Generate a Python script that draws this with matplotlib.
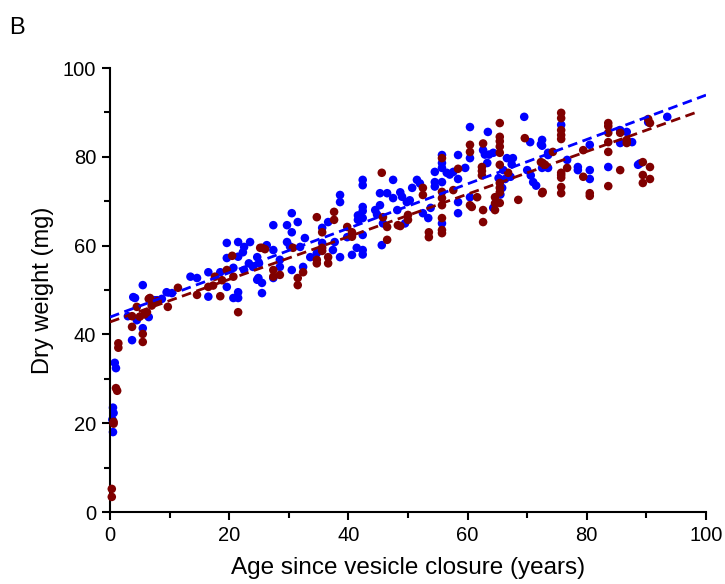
import matplotlib
matplotlib.use("Agg")
import matplotlib.pyplot as plt
from matplotlib.ticker import MultipleLocator

plt.rcParams['font.family'] = ['Liberation Sans', 'DejaVu Sans']

blue_pts = [(0.8,33.6),(1.0,32.4),(0.5,23.5),(0.6,22.3),(0.5,18.0),(0.4,20.8),
(3.7,38.7),(5.5,41.4),(4.5,43.2),(3.0,44.1),(4.2,48.2),(3.9,48.4),(5.5,51.1),(6.5,43.9),(7.5,47.7),(7.9,47.7),(8.7,48.0),
(9.5,49.5),(10.4,49.3),(13.5,53.0),(14.6,52.7),(16.5,54.0),(16.5,48.5),(18.5,54.0),(19.6,50.7),(19.6,60.6),(19.6,57.2),
(21.5,60.8),(22.5,59.7),(23.5,60.8),
(21.5,57.5),(22.3,58.5),(20.7,48.2),(21.5,49.5),(21.5,48.2),(20.7,55.0),(22.5,54.5),(23.3,56.0),(24.0,55.2),(24.7,52.3),
(24.7,57.4),(25.0,56.0),(24.9,52.7),(25.5,51.6),(25.5,49.3),(26.3,60.1),(27.4,59.0),(27.4,64.6),(29.7,64.6),(30.5,67.3),
(30.5,63.0),(31.5,65.3),(29.7,60.8),(30.2,59.8),(28.5,56.8),(28.5,55.2),(27.4,52.7),(30.5,54.5),(32.4,55.2),(32.7,61.7),
(31.9,59.7),(33.6,57.4),(34.7,58.3),(35.6,64.0),(35.6,60.6),(36.6,65.3),(37.7,60.8),(37.4,59.0),(38.6,71.4),(38.6,69.8),
(38.6,57.4),(39.8,61.9),(40.6,57.9),(41.6,65.8),(41.6,66.8),(41.4,59.5),(42.4,66.2),(42.4,62.4),(42.4,59.0),(42.4,58.0),
(42.4,74.8),(42.4,73.6),(42.4,68.7),(42.4,67.8),(45.3,71.8),(45.3,69.1),(44.5,68.0),(44.8,67.0),(46.5,71.8),(47.5,74.8),
(47.5,70.7),(45.8,65.0),(45.6,60.1),(48.2,68.0),(48.7,72.0),(49.0,71.0),(49.8,69.8),(50.3,70.2),(49.5,65.0),(50.7,73.0),
(51.5,74.8),(52.0,74.0),(52.5,67.3),(53.4,66.2),(53.8,68.5),(54.5,76.6),(54.5,74.3),(54.5,73.3),(55.7,80.4),(55.7,78.6),
(55.7,77.5),(55.7,74.3),(55.7,65.0),(56.5,76.4),(57.0,76.0),(57.6,76.6),(58.4,80.4),(58.4,75.0),(58.4,69.8),(58.4,67.3),
(60.4,86.7),(60.4,79.7),(59.6,77.5),(60.4,70.9),(63.4,85.6),(62.6,81.5),(62.9,80.5),(63.3,78.6),(63.6,80.5),(64.3,80.9),
(64.3,68.5),(65.2,75.2),(65.5,71.5),(65.8,73.0),(66.0,77.0),(66.6,79.7),(66.3,75.0),(67.2,75.5),(67.6,79.7),(67.4,78.3),
(69.5,89.0),(70.5,83.3),
(72.5,83.8),(72.3,82.8),(73.5,80.9),(70.0,77.0),(71.0,74.3),(71.5,73.5),(70.6,75.8),(72.5,82.5),(73.5,80.4),(73.5,77.5),
(72.5,77.5),(75.7,87.2),(76.7,79.3),(78.5,77.7),(78.5,77.0),(80.5,77.0),(80.5,75.0),(80.5,82.7),(83.6,77.7),(85.6,86.0),
(85.6,83.1),(86.7,85.6),(87.6,83.3),(88.6,78.2),(88.9,78.5),(90.3,87.8),(93.5,89.0)]

red_pts = [(0.3,5.2),(0.3,3.4),(1.0,27.9),(1.2,27.3),(0.6,20.3),(0.6,19.9),(1.4,38.0),(1.4,37.0),
(3.7,41.7),(5.5,38.3),(5.5,40.1),(3.7,44.1),(4.5,46.2),(6.5,48.0),(6.7,48.2),(6.2,45.0),(5.0,44.0),(5.8,44.5),(7.0,46.5),
(8.0,47.5),(9.7,46.2),(11.4,50.5),(14.6,48.9),(16.5,50.7),(17.6,53.0),(17.3,51.0),(18.5,48.6),(18.8,52.2),(19.6,54.5),
(20.5,57.7),(21.5,45.0),
(20.7,53.0),(25.2,59.5),(25.5,59.5),(26.0,59.2),(27.4,54.5),(27.4,53.0),(28.5,53.4),(30.7,59.5),(31.5,52.7),(31.5,51.1),
(32.4,54.0),(34.7,66.4),(34.7,56.8),(34.7,56.0),(35.6,63.0),(35.6,59.5),(35.6,58.8),(36.6,57.4),(36.6,56.0),(37.6,67.6),
(37.6,65.8),(39.8,64.2),(40.6,63.0),(40.6,62.0),(45.6,76.4),(45.8,66.4),(46.5,64.2),(46.5,61.3),(48.3,64.6),(48.7,64.4),
(50.0,66.9),(50.0,65.8),(52.5,73.0),(52.5,71.4),(53.5,63.0),(53.5,61.9),(55.7,79.7),(55.7,72.1),(55.7,70.7),(55.7,69.1),
(55.7,66.2),(55.7,63.5),(55.7,62.8),(57.6,72.5),(58.4,77.3),(60.4,82.7),(60.4,81.1),(60.7,68.7),(60.4,69.1),(61.6,70.9),
(62.6,83.0),(62.4,77.7),(62.4,76.8),(62.4,75.8),(62.6,68.0),(62.6,65.3),(64.6,70.9),(64.6,69.5),(64.6,68.0),(65.4,87.6),
(65.4,84.5),(65.4,83.5),(65.4,82.3),(65.4,80.9),(65.4,78.2),(65.4,74.1),(65.4,73.0),(65.4,72.0),(65.4,69.6),(66.8,76.4),
(68.5,70.3),(69.6,84.2),
(72.6,78.6),(72.6,72.1),(74.3,81.1),(73.0,78.2),(72.3,78.8),(75.7,89.9),(75.7,88.7),(75.7,86.0),(75.7,84.9),(75.7,84.0),
(75.7,76.4),(75.7,75.9),(75.7,75.3),(75.7,73.2),(75.7,71.8),(72.5,71.8),(76.7,77.5),(79.4,75.5),(80.5,71.8),(80.5,71.2),
(79.4,81.5),(83.6,87.6),(83.6,86.9),(83.6,85.4),(83.6,83.3),(83.6,81.1),(83.6,73.4),(85.6,85.4),(86.7,83.8),(86.7,83.1),
(85.6,77.0),(89.4,78.8),(90.6,77.7),(89.4,75.9),(90.6,75.0),(89.4,74.1),(90.3,88.5),(90.6,87.6)]

blue_fit = (43.9, 0.50)   # intercept, slope
red_fit = (42.8, 0.48)
blue_fit_range = (0, 100)
red_fit_range = (0, 98.7)

xticks = [0, 20, 40, 60, 80, 100]
yticks = [0, 20, 40, 60, 80, 100]

BLUE = '#0000ff'
RED = '#800000'

fig = plt.figure(figsize=(7.25, 5.84), dpi=100)
ax = fig.add_axes([110/725, 72/584, 596/725, 444/584])

bx, by = zip(*blue_pts)
rx, ry = zip(*red_pts)
ax.scatter(bx, by, s=38, color=BLUE, edgecolors='none', zorder=2, clip_on=False)
ax.scatter(rx, ry, s=38, color=RED, edgecolors='none', zorder=3, clip_on=False)

for (b, m), (x0, x1), c in [(blue_fit, blue_fit_range, BLUE), (red_fit, red_fit_range, RED)]:
    ax.plot([x0, x1], [b + m*x0, b + m*x1], color=c, lw=2.0, ls=(0, (3.5, 2.0)), zorder=4)

ax.set_xlim(0, 100)
ax.set_ylim(0, 100)
ax.set_xticks(xticks)
ax.set_yticks(yticks)
ax.xaxis.set_minor_locator(MultipleLocator(10))
ax.yaxis.set_minor_locator(MultipleLocator(10))
for s in ['top', 'right']:
    ax.spines[s].set_visible(False)
for s in ['left', 'bottom']:
    ax.spines[s].set_linewidth(1.5)
ax.tick_params(which='major', length=6, width=1.5, labelsize=14.5, direction='out', pad=4)
ax.tick_params(which='minor', length=4, width=1.5, direction='out')
ax.set_xlabel('Age since vesicle closure (years)', fontsize=17.5, labelpad=9)
ax.set_ylabel('Dry weight (mg)', fontsize=17, labelpad=6)
fig.text(9/725, 1 - 34/584, 'B', fontsize=17, va='baseline', ha='left')

fig.savefig('out.png', dpi=100)
